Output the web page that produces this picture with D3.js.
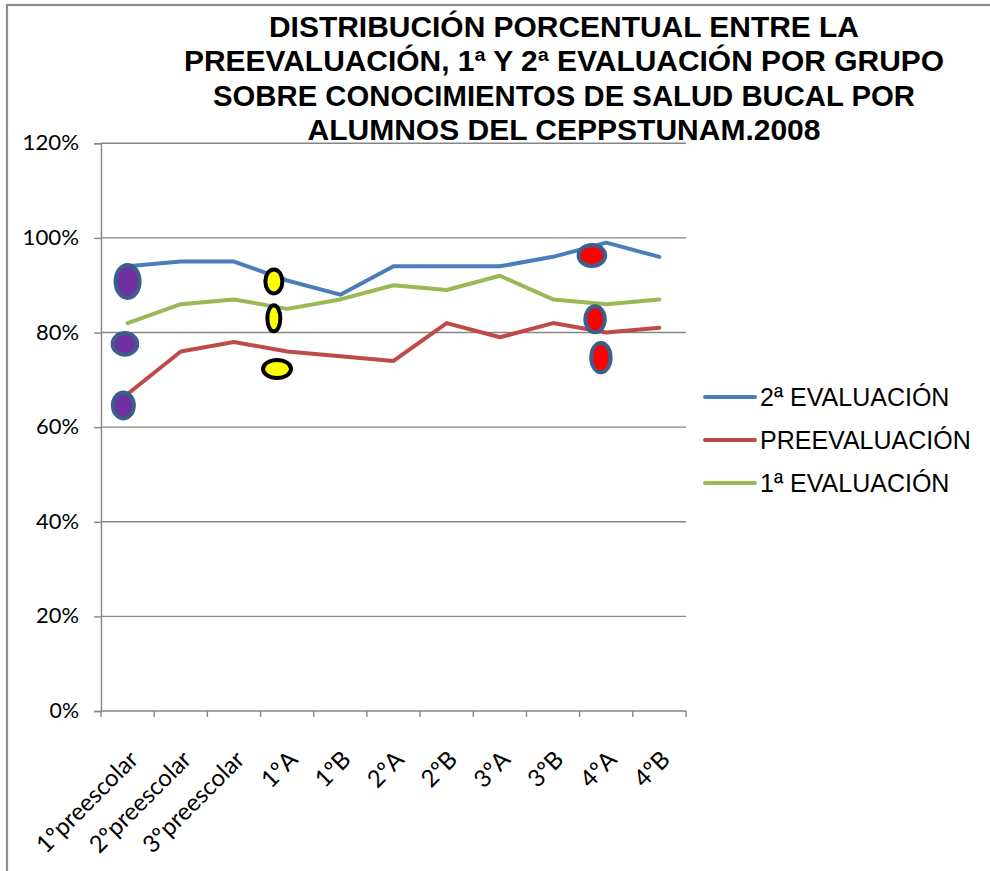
<!DOCTYPE html>
<html>
<head>
<meta charset="utf-8">
<script src="https://cdn.jsdelivr.net/npm/d3@7"></script>
<style>
  html, body { margin: 0; padding: 0; background: #fff; }
  svg { display: block; }
</style>
</head>
<body>
<svg id="chart" width="990" height="871"></svg>
<script>
// ---------- data ----------
const categories = ["1ºpreescolar","2ºpreescolar","3ºpreescolar","1ºA","1ºB","2ºA","2ºB","3ºA","3ºB","4ºA","4ºB"];
const seriesNames = ["2ª EVALUACIÓN","PREEVALUACIÓN","1ª EVALUACIÓN"];
const segundaEval = [94,95,95,91,88,94,94,94,96,99,96];
const preEval     = [67,76,78,76,75,74,82,79,82,80,81];
const primeraEval = [82,86,87,85,87,90,89,92,87,86,87];
const yTicks = [0,20,40,60,80,100,120];
const titleLines = [
  "DISTRIBUCIÓN PORCENTUAL ENTRE LA",
  "PREEVALUACIÓN, 1ª Y 2ª EVALUACIÓN POR GRUPO",
  "SOBRE CONOCIMIENTOS DE SALUD BUCAL POR",
  "ALUMNOS DEL CEPPSTUNAM.2008"
];
// hand-drawn marks: position in category units, value in %
const markPos   = [0.0, -0.05, -0.08, 2.75, 2.75, 2.81, 8.73, 8.79, 8.90];
const markValue = [90.8, 77.6, 64.6, 90.8, 83.0, 72.3, 96.3, 82.8, 74.7];
const markKind  = ["purple","purple","purple","yellow","yellow","yellow","red","red","red"];

// ---------- styles ----------
const seriesColors = ["#4A7EBB","#BE4B48","#98B954"];
const titleWidths = [590, 760, 702, 513];
const markRx = [12, 12.3, 10.5, 8.5, 6.5, 14, 13.3, 9.7, 9.7];
const markRy = [16.5, 10.8, 13, 12, 13, 9, 10.5, 13, 14.7];
const markStyle = {
  purple: {fill:"#7030A0", stroke:"#3B5E8C"},
  yellow: {fill:"#FFFF00", stroke:"#000000"},
  red:    {fill:"#FF0000", stroke:"#3B5E8C"}
};
const gridColor = "#868686";

const svg = d3.select("#chart");
const margin = {left:101, right:686, top:143.3, bottom:711};

// outer frame
svg.append("rect").attr("x",7).attr("y",5).attr("width",1100).attr("height",1000)
  .attr("fill","none").attr("stroke","#8c8c8c").attr("stroke-width",2.2);

const x = d3.scaleBand().domain(categories).range([margin.left, margin.right]).paddingInner(0).paddingOuter(0);
const xPos = d3.scaleLinear().domain([-0.5, categories.length - 0.5]).range([margin.left, margin.right]);
const y = d3.scaleLinear().domain([0,120]).range([margin.bottom, margin.top]);

// gridlines
svg.append("g").selectAll("line").data(yTicks.filter(d => d > 0)).join("line")
  .attr("x1", margin.left).attr("x2", margin.right)
  .attr("y1", d => y(d)).attr("y2", d => y(d))
  .attr("stroke", gridColor).attr("stroke-width", 1.4);

// y axis
const yAxis = d3.axisLeft(y).tickValues(yTicks).tickFormat(d => d + "%").tickSize(7).tickPadding(15);
const gy = svg.append("g").attr("transform", `translate(${margin.left},0)`).call(yAxis);
gy.select(".domain").attr("stroke", gridColor).attr("stroke-width", 1.4);
gy.selectAll(".tick line").attr("stroke", gridColor).attr("stroke-width", 1.4);
gy.selectAll(".tick text").attr("font-family","Lato, sans-serif").attr("font-size", 22)
  .attr("fill","#000").attr("dy","0.3em")
  .attr("textLength", d => String(d).length * 13.5 + 16).attr("lengthAdjust","spacingAndGlyphs");

// x axis
const xTickPos = d3.range(categories.length + 1).map(i => xPos(i - 0.5));
const gx = svg.append("g");
gx.append("line").attr("x1", margin.left).attr("x2", margin.right)
  .attr("y1", margin.bottom).attr("y2", margin.bottom)
  .attr("stroke", gridColor).attr("stroke-width", 1.4);
gx.selectAll("line.tk").data(xTickPos).join("line").attr("class","tk")
  .attr("x1", d => d).attr("x2", d => d)
  .attr("y1", margin.bottom).attr("y2", margin.bottom + 6)
  .attr("stroke", gridColor).attr("stroke-width", 1.4);
gx.selectAll("text").data(categories).join("text")
  .attr("transform", d => `translate(${x(d) + x.bandwidth()/2 + 12},${margin.bottom + 50}) rotate(-45)`)
  .attr("text-anchor","end")
  .attr("font-family","Lato, sans-serif").attr("font-size", 24).attr("fill","#000")
  .text(d => d);

// lines
const seriesData = [segundaEval, preEval, primeraEval];
const line = d3.line().x((d,i) => x(categories[i]) + x.bandwidth()/2).y(d => y(d));
svg.append("g").selectAll("path").data(seriesData).join("path")
  .attr("d", line).attr("fill","none")
  .attr("stroke", (d,i) => seriesColors[i]).attr("stroke-width", 4)
  .attr("stroke-linejoin","round").attr("stroke-linecap","round");

// hand-drawn ellipses
svg.append("g").selectAll("ellipse").data(markPos).join("ellipse")
  .attr("cx", d => xPos(d)).attr("cy", (d,i) => y(markValue[i]))
  .attr("rx", (d,i) => markRx[i]).attr("ry", (d,i) => markRy[i])
  .attr("fill", (d,i) => markStyle[markKind[i]].fill)
  .attr("stroke", (d,i) => markStyle[markKind[i]].stroke)
  .attr("stroke-width", 4);

// title
svg.append("g").selectAll("text").data(titleLines).join("text")
  .attr("x", 564).attr("y", (d,i) => 37 + i*34.3)
  .attr("text-anchor","middle")
  .attr("font-family","'Liberation Sans', Arial, sans-serif").attr("font-weight","bold")
  .attr("font-size", 29).attr("fill","#000")
  .attr("textLength", (d,i) => titleWidths[i]).attr("lengthAdjust","spacingAndGlyphs")
  .text(d => d);

// legend
const leg = svg.append("g").selectAll("g").data(seriesNames).join("g")
  .attr("transform", (d,i) => `translate(705,${397 + i*43})`);
leg.append("line").attr("x1",0).attr("x2",50).attr("y1",0).attr("y2",0)
  .attr("stroke", (d,i) => seriesColors[i]).attr("stroke-width",4).attr("stroke-linecap","round");
leg.append("text").attr("x",55).attr("y",0).attr("dy","0.36em")
  .attr("font-family","'Liberation Sans', Arial, sans-serif").attr("font-size",25).attr("fill","#000")
  .text(d => d);
</script>
</body>
</html>
